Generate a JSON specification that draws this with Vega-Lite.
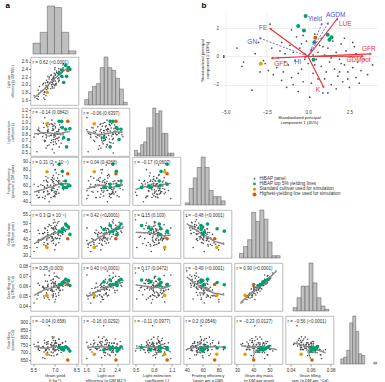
{
"$schema":"https://vega.github.io/schema/vega-lite/v6.json",
"padding":{"left":5.5,"top":1,"right":0,"bottom":0},
"background":"white",
"config":{"font":"Liberation Sans","view":{"stroke":"#aaaaaa","strokeWidth":0.8},
"axis":{"labelFontSize":4.5,"titleFontSize":4.2,"titleFontWeight":"normal","labelColor":"#333","titleColor":"#222","tickSize":2,"tickWidth":0.6,"tickColor":"#555","domain":false,"grid":false,"labelPadding":1,"titlePadding":2,"titleLineHeight":5,"labelOverlap":false,"labelFlush":false},
"axisY":{"minExtent":14,"maxExtent":14},
"title":{"fontSize":4.5,"fontWeight":"normal","anchor":"start","frame":"group","offset":-7,"dx":2,"color":"#333"}},
"datasets":{
"geno":[
{"g":"P","Y":6.92,"L":2.10,"K":0.82,"F":60,"D":43.0,"R":0.0590,"T":728},
{"g":"P","Y":6.44,"L":1.95,"K":0.78,"F":65.4,"D":39.5,"R":0.0511,"T":769},
{"g":"P","Y":7.04,"L":2.25,"K":0.91,"F":50.4,"D":47.5,"R":0.0643,"T":737},
{"g":"P","Y":6.34,"L":2.05,"K":0.70,"F":47.2,"D":46.5,"R":0.0649,"T":713},
{"g":"P","Y":6.52,"L":1.80,"K":0.85,"F":69.6,"D":37.0,"R":0.0486,"T":759},
{"g":"P","Y":7.44,"L":2.30,"K":0.66,"F":62.2,"D":44.0,"R":0.0624,"T":702},
{"g":"P","Y":6.90,"L":2.15,"K":0.88,"F":72.8,"D":39.5,"R":0.0501,"T":782},
{"g":"P","Y":6.51,"L":1.90,"K":0.93,"F":52.6,"D":43.0,"R":0.0590,"T":728},
{"g":"P","Y":6.99,"L":2.40,"K":0.80,"F":47.6,"D":48.0,"R":0.0630,"T":762},
{"g":"P","Y":7.09,"L":2.00,"K":0.74,"F":76.0,"D":37.0,"R":0.0496,"T":746},
{"g":"P","Y":6.61,"L":2.20,"K":0.97,"F":50.0,"D":49.0,"R":0.0704,"T":685},
{"g":"P","Y":5.84,"L":1.70,"K":0.81,"F":59.2,"D":38.0,"R":0.0530,"T":720},
{"g":"P","Y":7.30,"L":2.12,"K":0.60,"F":62.8,"D":44.2,"R":0.0587,"T":753},
{"g":"P","Y":7.27,"L":2.35,"K":0.86,"F":62.6,"D":42.5,"R":0.0533,"T":792},
{"g":"P","Y":6.15,"L":1.85,"K":0.77,"F":45.4,"D":43.5,"R":0.0587,"T":741},
{"g":"P","Y":6.51,"L":2.08,"K":1.00,"F":64.4,"D":40.8,"R":0.0559,"T":730},
{"g":"P","Y":7.02,"L":2.28,"K":0.72,"F":53.0,"D":44.8,"R":0.0625,"T":714},
{"g":"P","Y":6.53,"L":1.98,"K":0.89,"F":49.8,"D":47.8,"R":0.0617,"T":775},
{"g":"P","Y":7.73,"L":2.50,"K":0.84,"F":62.4,"D":45.0,"R":0.0608,"T":739},
{"g":"P","Y":7.04,"L":2.02,"K":0.68,"F":80.2,"D":36.2,"R":0.0465,"T":772},
{"g":"P","Y":6.24,"L":1.75,"K":0.92,"F":52.8,"D":40.5,"R":0.0575,"T":705},
{"g":"P","Y":6.94,"L":2.18,"K":0.79,"F":62.6,"D":45.8,"R":0.0609,"T":751},
{"g":"P","Y":6.93,"L":2.22,"K":0.95,"F":59.8,"D":40.2,"R":0.0591,"T":680},
{"g":"P","Y":6.82,"L":1.92,"K":0.56,"F":67.0,"D":41.2,"R":0.0555,"T":742},
{"g":"P","Y":7.01,"L":2.45,"K":0.83,"F":46.2,"D":50.5,"R":0.0695,"T":722},
{"g":"P","Y":6.81,"L":2.06,"K":0.87,"F":57.2,"D":41.6,"R":0.0510,"T":806},
{"g":"P","Y":6.40,"L":1.88,"K":0.75,"F":67.0,"D":35.8,"R":0.0499,"T":721},
{"g":"P","Y":7.52,"L":2.32,"K":0.90,"F":56.8,"D":46.2,"R":0.0605,"T":764},
{"g":"P","Y":6.91,"L":2.14,"K":0.64,"F":65.4,"D":46.4,"R":0.0628,"T":738},
{"g":"P","Y":6.23,"L":1.66,"K":0.82,"F":66.4,"D":36.6,"R":0.0500,"T":733},
{"g":"P","Y":6.75,"L":2.26,"K":0.98,"F":55.6,"D":41.6,"R":0.0590,"T":704},
{"g":"P","Y":6.77,"L":2.00,"K":0.71,"F":54.0,"D":47.0,"R":0.0626,"T":751},
{"g":"P","Y":7.42,"L":2.38,"K":0.80,"F":63.2,"D":44.8,"R":0.0605,"T":740},
{"g":"P","Y":5.93,"L":1.96,"K":0.86,"F":45.6,"D":43.6,"R":0.0608,"T":715},
{"g":"P","Y":7.04,"L":2.10,"K":0.93,"F":61.4,"D":41.0,"R":0.0522,"T":781},
{"g":"P","Y":7.60,"L":2.55,"K":0.77,"F":55.0,"D":47.5,"R":0.0653,"T":725},
{"g":"P","Y":6.29,"L":1.82,"K":0.69,"F":58.2,"D":44.2,"R":0.0577,"T":765},
{"g":"P","Y":7.20,"L":2.16,"K":0.85,"F":69.6,"D":40.6,"R":0.0586,"T":692},
{"g":"P","Y":6.21,"L":2.04,"K":0.99,"F":51.8,"D":43.4,"R":0.0586,"T":741},
{"g":"P","Y":7.28,"L":2.28,"K":0.81,"F":50.8,"D":50.8,"R":0.0679,"T":747},
{"g":"P","Y":6.48,"L":1.94,"K":0.62,"F":60.8,"D":37.4,"R":0.0512,"T":733},
{"g":"P","Y":7.27,"L":2.42,"K":0.88,"F":66.4,"D":44.2,"R":0.0617,"T":715},
{"g":"P","Y":7.29,"L":2.12,"K":0.76,"F":58.6,"D":45.2,"R":0.0571,"T":790},
{"g":"P","Y":5.88,"L":1.78,"K":0.91,"F":52.0,"D":39.8,"R":0.0535,"T":744},
{"g":"P","Y":7.55,"L":2.20,"K":0.73,"F":72.2,"D":43.0,"R":0.0560,"T":766},
{"g":"P","Y":6.48,"L":2.06,"K":0.84,"F":53.4,"D":45.6,"R":0.0646,"T":701},
{"g":"P","Y":7.34,"L":2.34,"K":0.96,"F":66.0,"D":40.4,"R":0.0554,"T":730},
{"g":"P","Y":6.71,"L":1.90,"K":0.79,"F":60.8,"D":42.0,"R":0.0556,"T":754},
{"g":"P","Y":6.73,"L":2.24,"K":0.67,"F":45.2,"D":48.4,"R":0.0656,"T":737},
{"g":"P","Y":6.16,"L":2.00,"K":0.83,"F":60.4,"D":40.0,"R":0.0598,"T":667},
{"g":"P","Y":7.75,"L":2.48,"K":0.90,"F":56.6,"D":48.8,"R":0.0631,"T":775},
{"g":"P","Y":6.38,"L":1.72,"K":0.80,"F":71.6,"D":36.2,"R":0.0505,"T":721},
{"g":"P","Y":6.79,"L":2.14,"K":1.04,"F":54.0,"D":43.4,"R":0.0566,"T":766},
{"g":"P","Y":7.21,"L":2.30,"K":0.74,"F":65.4,"D":43.0,"R":0.0580,"T":741},
{"g":"P","Y":5.84,"L":1.86,"K":0.87,"F":45.0,"D":45.6,"R":0.0626,"T":726},
{"g":"P","Y":7.26,"L":2.08,"K":0.70,"F":63.8,"D":43.8,"R":0.0581,"T":753},
{"g":"P","Y":7.12,"L":2.36,"K":0.82,"F":52.4,"D":48.6,"R":0.0698,"T":686},
{"g":"P","Y":6.86,"L":2.02,"K":0.94,"F":64.6,"D":39.2,"R":0.0487,"T":795},
{"g":"P","Y":6.39,"L":1.98,"K":0.58,"F":57.0,"D":41.8,"R":0.0583,"T":717},
{"g":"P","Y":7.28,"L":2.18,"K":0.89,"F":74.2,"D":37.8,"R":0.0507,"T":745},
{"g":"P","Y":7.04,"L":2.26,"K":0.78,"F":49.6,"D":46.6,"R":0.0610,"T":764},
{"g":"P","Y":6.03,"L":1.84,"K":0.84,"F":61.2,"D":39.4,"R":0.0540,"T":731},
{"g":"P","Y":6.88,"L":2.10,"K":0.72,"F":57.2,"D":47.0,"R":0.0666,"T":700},
{"g":"P","Y":7.39,"L":2.40,"K":0.92,"F":61.8,"D":42.0,"R":0.0556,"T":754},
{"g":"P","Y":6.94,"L":1.92,"K":0.80,"F":68.4,"D":44.2,"R":0.0547,"T":804},
{"g":"P","Y":6.51,"L":2.22,"K":0.86,"F":49.0,"D":44.2,"R":0.0597,"T":740},
{"g":"P","Y":7.10,"L":2.04,"K":0.65,"F":66.4,"D":40.4,"R":0.0564,"T":718},
{"g":"P","Y":5.83,"L":1.62,"K":0.88,"F":53.8,"D":39.2,"R":0.0507,"T":769},
{"g":"P","Y":7.18,"L":2.30,"K":0.81,"F":55.0,"D":50.0,"R":0.0688,"T":723},
{"g":"P","Y":6.42,"L":2.12,"K":0.95,"F":56.6,"D":40.2,"R":0.0531,"T":756},
{"g":"P","Y":6.94,"L":2.00,"K":0.76,"F":56.6,"D":44.0,"R":0.0594,"T":740},
{"g":"P","Y":7.58,"L":2.44,"K":0.83,"F":66.0,"D":46.4,"R":0.0648,"T":713},
{"g":"P","Y":6.26,"L":1.80,"K":0.71,"F":58.4,"D":38.0,"R":0.0480,"T":783},
{"g":"P","Y":6.86,"L":2.16,"K":0.90,"F":54.4,"D":46.6,"R":0.0640,"T":725},
{"g":"P","Y":6.75,"L":2.08,"K":0.79,"F":67.8,"D":38.8,"R":0.0571,"T":681},
{"g":"P","Y":7.12,"L":2.32,"K":0.85,"F":49.8,"D":46.2,"R":0.0605,"T":764},
{"g":"P","Y":6.82,"L":1.96,"K":0.97,"F":70.2,"D":40.6,"R":0.0546,"T":743},
{"g":"P","Y":6.89,"L":2.20,"K":0.68,"F":46.8,"D":50.0,"R":0.0668,"T":748},
{"g":"P","Y":6.49,"L":2.06,"K":0.87,"F":60.0,"D":42.6,"R":0.0604,"T":703},
{"g":"P","Y":7.57,"L":2.52,"K":0.80,"F":60.6,"D":44.2,"R":0.0597,"T":740},
{"g":"P","Y":5.55,"L":1.72,"K":0.76,"F":62,"D":32.5,"R":0.0430,"T":756},
{"g":"P","Y":5.75,"L":1.65,"K":0.52,"F":48,"D":35.0,"R":0.0470,"T":745},
{"g":"P","Y":6.60,"L":2.05,"K":0.78,"F":58,"D":41.0,"R":0.0465,"T":880},
{"g":"P","Y":6.90,"L":2.12,"K":0.88,"F":86,"D":37.5,"R":0.0520,"T":721},
{"g":"P","Y":6.30,"L":1.62,"K":1.08,"F":44,"D":47.0,"R":0.0710,"T":662},
{"g":"P","Y":6.95,"L":2.30,"K":0.50,"F":52,"D":52.0,"R":0.0730,"T":712},
{"g":"P","Y":6.60,"L":2.15,"K":0.63,"F":40,"D":54.0,"R":0.0750,"T":720},
{"g":"P","Y":7.00,"L":1.98,"K":0.98,"F":80,"D":33.5,"R":0.0440,"T":761},
{"g":"H","Y":7.90,"L":2.37,"K":1.02,"F":75,"D":40.3,"R":0.0615,"T":652},
{"g":"T","Y":7.30,"L":2.29,"K":1.02,"F":87,"D":45.0,"R":0.0612,"T":735},
{"g":"T","Y":7.52,"L":2.38,"K":0.92,"F":78,"D":46.5,"R":0.0635,"T":732},
{"g":"T","Y":7.75,"L":2.50,"K":0.89,"F":66,"D":49.4,"R":0.0668,"T":740},
{"g":"T","Y":7.95,"L":2.45,"K":0.72,"F":60,"D":47.5,"R":0.0655,"T":725},
{"g":"T","Y":7.48,"L":2.22,"K":1.02,"F":62,"D":44.5,"R":0.0615,"T":724},
{"g":"T","Y":7.82,"L":2.22,"K":0.60,"F":58,"D":48.5,"R":0.0660,"T":735},
{"g":"T","Y":7.62,"L":2.06,"K":0.75,"F":58,"D":46.0,"R":0.0640,"T":719},
{"g":"T","Y":8.05,"L":2.40,"K":0.90,"F":60,"D":43.0,"R":0.0605,"T":711},
{"g":"S","Y":6.45,"L":1.81,"K":0.98,"F":77.6,"D":35.0,"R":0.0506,"T":690}
],
"pca":[
{"g":"P","x":-5.1,"y":0.05},{"g":"P","x":-5.1,"y":-0.05},{"g":"P","x":-4.3,"y":0.6},{"g":"P","x":-3.9,"y":-0.4},{"g":"P","x":-4.0,"y":-0.7},{"g":"P","x":-3.4,"y":-2.4},{"g":"P","x":-2.3,"y":2.3},{"g":"P","x":-2.6,"y":-0.5},{"g":"P","x":-2.4,"y":-1.0},{"g":"P","x":-2.1,"y":-1.3},
{"g":"P","x":-1.9,"y":-0.8},{"g":"P","x":-1.7,"y":0.4},{"g":"P","x":-1.6,"y":1.0},{"g":"P","x":-1.4,"y":0.2},{"g":"P","x":-1.3,"y":-2.2},{"g":"P","x":-1.2,"y":-0.6},{"g":"P","x":-1.1,"y":0.8},{"g":"P","x":-1.0,"y":-1.5},{"g":"P","x":-0.9,"y":0.3},{"g":"P","x":-0.8,"y":-0.3},
{"g":"P","x":-0.7,"y":1.4},{"g":"P","x":-0.6,"y":-2.5},{"g":"P","x":-0.5,"y":0.6},{"g":"P","x":-0.4,"y":-0.9},{"g":"P","x":-0.3,"y":-1.8},{"g":"P","x":-0.2,"y":0.2},{"g":"P","x":-0.1,"y":1.1},{"g":"P","x":0.0,"y":-0.5},{"g":"P","x":0.1,"y":-2.9},{"g":"P","x":0.2,"y":0.5},
{"g":"P","x":0.3,"y":-1.2},{"g":"P","x":0.4,"y":1.6},{"g":"P","x":0.5,"y":-0.2},{"g":"P","x":0.6,"y":-1.6},{"g":"P","x":0.7,"y":0.8},{"g":"P","x":0.8,"y":-0.7},{"g":"P","x":0.9,"y":-2.6},{"g":"P","x":1.0,"y":0.1},{"g":"P","x":1.1,"y":-1.1},{"g":"P","x":1.2,"y":0.6},
{"g":"P","x":1.3,"y":-0.4},{"g":"P","x":1.4,"y":-2.0},{"g":"P","x":1.5,"y":1.1},{"g":"P","x":1.6,"y":-0.9},{"g":"P","x":1.7,"y":0.3},{"g":"P","x":1.8,"y":-1.4},{"g":"P","x":1.9,"y":-0.2},{"g":"P","x":2.0,"y":0.9},{"g":"P","x":2.1,"y":-1.8},{"g":"P","x":2.2,"y":-0.6},
{"g":"P","x":2.3,"y":0.4},{"g":"P","x":2.4,"y":-1.1},{"g":"P","x":2.5,"y":-2.2},{"g":"P","x":2.6,"y":0.0},{"g":"P","x":2.7,"y":-0.8},{"g":"P","x":2.8,"y":0.7},{"g":"P","x":2.9,"y":-1.5},{"g":"P","x":3.0,"y":-0.4},{"g":"P","x":3.2,"y":-1.0},{"g":"P","x":3.4,"y":-0.2},
{"g":"P","x":3.6,"y":-1.3},{"g":"P","x":3.9,"y":-0.6},{"g":"P","x":2.2,"y":1.3},{"g":"P","x":2.7,"y":1.0},{"g":"P","x":-3.0,"y":1.0},{"g":"P","x":-1.8,"y":-0.1},{"g":"P","x":-2.9,"y":-1.1},{"g":"P","x":-1.5,"y":-1.1},{"g":"P","x":-0.6,"y":-1.2},{"g":"P","x":0.4,"y":-0.6},
{"g":"P","x":1.0,"y":-1.6},{"g":"P","x":1.7,"y":-2.3},{"g":"P","x":0.2,"y":-1.9},{"g":"P","x":-0.9,"y":-2.0},{"g":"P","x":-2.2,"y":0.6},{"g":"P","x":-0.2,"y":-0.2},{"g":"P","x":0.6,"y":0.3},{"g":"P","x":1.4,"y":-0.1},{"g":"P","x":2.0,"y":-0.5},{"g":"P","x":3.1,"y":-1.9},
{"g":"P","x":-3.2,"y":0.2},{"g":"P","x":-1.0,"y":1.9},{"g":"P","x":0.9,"y":0.7},{"g":"P","x":1.9,"y":-1.1},{"g":"P","x":-0.4,"y":0.9},{"g":"P","x":-2.7,"y":-0.3},{"g":"P","x":0.3,"y":0.1},{"g":"P","x":-1.4,"y":-0.4},{"g":"P","x":2.4,"y":-1.6},{"g":"P","x":1.2,"y":-2.6},
{"g":"P","x":-0.3,"y":1.5},{"g":"P","x":0.8,"y":1.3},{"g":"P","x":2.9,"y":0.2},{"g":"P","x":-1.6,"y":-1.7},
{"g":"T","x":-0.15,"y":2.88},{"g":"T","x":-0.6,"y":2.17},{"g":"T","x":-0.25,"y":1.86},{"g":"T","x":0.38,"y":1.02},{"g":"T","x":1.19,"y":1.55},{"g":"T","x":1.42,"y":1.38},{"g":"T","x":1.29,"y":1.19},{"g":"T","x":0.33,"y":-0.24},
{"g":"S","x":-2.86,"y":-0.52},{"g":"H","x":0.44,"y":1.33}
],
"arrows":[
{"v":"FE","k":"t","x":-2.29,"y":1.98,"lx":-2.72,"ly":2.05},
{"v":"LUE","k":"t","x":1.77,"y":2.69,"lx":2.25,"ly":2.33},
{"v":"GFR","k":"t","x":3.79,"y":0.19,"lx":3.68,"ly":0.55},
{"v":"GDMpot","k":"t","x":3.3,"y":0.02,"lx":3.05,"ly":-0.24},
{"v":"GFD","k":"t","x":-2.19,"y":-0.12,"lx":-1.63,"ly":-0.5},
{"v":"K","k":"t","x":0.94,"y":-2.19,"lx":0.6,"ly":-2.42},
{"v":"Yield","k":"s","x":0.83,"y":2.33,"lx":0.42,"ly":2.66},
{"v":"AGDM","k":"s","x":1.21,"y":2.38,"lx":1.67,"ly":2.93},
{"v":"GN","k":"s","x":-2.92,"y":1.31,"lx":-3.38,"ly":1.02},
{"v":"HI","k":"s","x":-0.2,"y":-0.05,"lx":-0.62,"ly":-0.38}
],
"leg":[
{"g":"P","label":"HiBAP panel"},
{"g":"T","label":"HiBAP top 5% yielding lines"},
{"g":"S","label":"Standard cultivar used for simulation"},
{"g":"H","label":"Highest-yielding line used for simulation"}
]
},
"spacing":-3,
"vconcat":[
{"hconcat":[
 {"concat":[
  {"width":48,"height":48,"view":{"stroke":null},"data":{"name":"geno"},
   "title":{"text":"a","fontSize":8,"fontWeight":"bold","color":"#000","anchor":"start","frame":"group","dx":-25,"offset":-4.5},
   "mark":{"type":"bar","fill":"#bfbfbf","stroke":"#595959","strokeWidth":0.5,"binSpacing":0},
   "encoding":{"x":{"field":"Y","type":"quantitative","bin":{"step":0.5,"extent":[5.44,8.44],"nice":false},"scale":{"domain":[5.3,8.65],"nice":false,"zero":false},"axis":null},
   "y":{"aggregate":"count","type":"quantitative","scale":{"nice":false},"axis":{"labels":false,"ticks":false,"title":["Light use","efficiency"],"titleOpacity":0,"titleFontSize":3.3,"titleLineHeight":4.2}}}},
  {"width":1,"height":1,"view":{"stroke":null},"data":{"values":[]},"mark":{"type":"point","opacity":0},"encoding":{}},
  {"width":1,"height":1,"view":{"stroke":null},"data":{"values":[]},"mark":{"type":"point","opacity":0},"encoding":{}},
  {"width":48,"height":48,"data":{"name":"geno"},"title":"r = 0.62 (<0.0001)",
   "encoding":{"x":{"field":"Y","type":"quantitative","scale":{"domain":[5.3,8.65],"nice":false,"zero":false},"axis":null},
    "y":{"field":"L","type":"quantitative","scale":{"domain":[1.48,2.72],"nice":false,"zero":false},"axis":{"values":[1.6,1.8,2.0,2.2,2.4,2.6],"format":".1f","title":["Light use","efficiency (g DM MJ⁻¹)"],"titleFontSize":3.3,"titleLineHeight":4.2}}},
   "layer":[
    {"transform":[{"filter":"datum.g=='P'"}],"mark":{"type":"point","filled":true,"size":2.5,"color":"#4d4d4d","opacity":1}},
    {"transform":[{"loess":"L","on":"Y","bandwidth":0.6}],"mark":{"type":"line","color":"#8a8a8a","strokeWidth":1.4}},
    {"transform":[{"filter":"datum.g!='P'"}],"mark":{"type":"point","filled":true,"size":13,"opacity":1},"encoding":{"color":{"field":"g","type":"nominal","scale":{"domain":["P","T","S","H"],"range":["#4d4d4d","#009E73","#E69F00","#D55E00"]},"legend":null}}}]},
  {"width":48,"height":48,"view":{"stroke":null},"data":{"name":"geno"},
   "mark":{"type":"bar","fill":"#bfbfbf","stroke":"#595959","strokeWidth":0.5,"binSpacing":0},
   "encoding":{"x":{"field":"L","type":"quantitative","bin":{"step":0.1,"extent":[1.55,2.65],"nice":false},"scale":{"domain":[1.48,2.72],"nice":false,"zero":false},"axis":null},
   "y":{"aggregate":"count","type":"quantitative","scale":{"nice":false},"axis":null}}},
  {"width":1,"height":1,"view":{"stroke":null},"data":{"values":[]},"mark":{"type":"point","opacity":0},"encoding":{}},
  {"width":48,"height":48,"data":{"name":"geno"},"title":"r = −0.14 (0.0842)",
   "encoding":{"x":{"field":"Y","type":"quantitative","scale":{"domain":[5.3,8.65],"nice":false,"zero":false},"axis":null},
    "y":{"field":"K","type":"quantitative","scale":{"domain":[0.45,1.24],"nice":false,"zero":false},"axis":{"values":[0.5,0.6,0.7,0.8,0.9,1.0,1.1,1.2],"format":".1f","title":["Light extinction","coefficient (-)"],"titleFontSize":3.3,"titleLineHeight":4.2}}},
   "layer":[
    {"transform":[{"filter":"datum.g=='P'"}],"mark":{"type":"point","filled":true,"size":2.5,"color":"#4d4d4d","opacity":1}},
    {"transform":[{"loess":"K","on":"Y","bandwidth":0.6}],"mark":{"type":"line","color":"#8a8a8a","strokeWidth":1.4}},
    {"transform":[{"filter":"datum.g!='P'"}],"mark":{"type":"point","filled":true,"size":13,"opacity":1},"encoding":{"color":{"field":"g","type":"nominal","scale":{"domain":["P","T","S","H"],"range":["#4d4d4d","#009E73","#E69F00","#D55E00"]},"legend":null}}}]},
  {"width":48,"height":48,"data":{"name":"geno"},"title":"r = −0.06 (0.6397)",
   "encoding":{"x":{"field":"L","type":"quantitative","scale":{"domain":[1.48,2.72],"nice":false,"zero":false},"axis":null},
    "y":{"field":"K","type":"quantitative","scale":{"domain":[0.45,1.24],"nice":false,"zero":false},"axis":null}},
   "layer":[
    {"transform":[{"filter":"datum.g=='P'"}],"mark":{"type":"point","filled":true,"size":2.5,"color":"#4d4d4d","opacity":1}},
    {"transform":[{"loess":"K","on":"L","bandwidth":0.6}],"mark":{"type":"line","color":"#8a8a8a","strokeWidth":1.4}},
    {"transform":[{"filter":"datum.g!='P'"}],"mark":{"type":"point","filled":true,"size":13,"opacity":1},"encoding":{"color":{"field":"g","type":"nominal","scale":{"domain":["P","T","S","H"],"range":["#4d4d4d","#009E73","#E69F00","#D55E00"]},"legend":null}}}]},
  {"width":48,"height":48,"view":{"stroke":null},"data":{"name":"geno"},
   "mark":{"type":"bar","fill":"#bfbfbf","stroke":"#595959","strokeWidth":0.5,"binSpacing":0},
   "encoding":{"x":{"field":"K","type":"quantitative","bin":{"step":0.05,"extent":[0.475,1.125],"nice":false},"scale":{"domain":[0.45,1.24],"nice":false,"zero":false},"axis":null},
   "y":{"aggregate":"count","type":"quantitative","scale":{"nice":false},"axis":null}}}
 ],"columns":3,"spacing":3,"bounds":"flush"},
 {"vconcat":[
  {"width":20,"height":4,"view":{"stroke":null},"data":{"values":[]},"mark":{"type":"point","opacity":0},"encoding":{}},
  {"width":157,"height":94,"view":{"stroke":null},
   "title":{"text":"b","fontSize":8,"fontWeight":"bold","color":"#000","anchor":"start","frame":"group","dx":-19,"offset":2.5},
   "encoding":{"x":{"field":"x","type":"quantitative","scale":{"domain":[-5.3,4.2],"nice":false,"zero":false},"axis":{"values":[-5,-2.5,0,2.5],"format":".1f","title":["Standardized principal","component 1 (45%)"],"grid":true,"gridColor":"#e4e4e4","gridWidth":0.6,"ticks":false,"labelPadding":2,"labelColor":"#444","titleFontSize":4.3}},
    "y":{"field":"y","type":"quantitative","scale":{"domain":[-3.6,3.1],"nice":false,"zero":false},"axis":{"values":[-2,0,2],"title":["Standardized principal","component 2 (19%)"],"grid":true,"gridColor":"#e4e4e4","gridWidth":0.6,"ticks":false,"labelPadding":2,"labelColor":"#444","minExtent":8,"maxExtent":8,"titlePadding":3,"titleFontSize":4.3,"titleLineHeight":5}}},
   "layer":[
    {"data":{"name":"pca"},"transform":[{"filter":"datum.g=='P'"}],"mark":{"type":"point","filled":true,"size":3,"color":"#4d4d4d","opacity":1}},
    {"data":{"name":"pca"},"transform":[{"filter":"datum.g!='P'"}],"mark":{"type":"point","filled":true,"size":16,"opacity":1},"encoding":{"color":{"field":"g","type":"nominal","scale":{"domain":["P","T","S","H"],"range":["#4d4d4d","#009E73","#E69F00","#D55E00"]},"legend":null}}},
    {"data":{"name":"arrows"},"transform":[{"filter":"datum.k=='s'"}],"mark":{"type":"rule","color":"#5a5ae0","strokeWidth":0.9,"strokeDash":[2,1.5]},"encoding":{"x2":{"datum":0},"y2":{"datum":0}}},
    {"data":{"name":"arrows"},"transform":[{"filter":"datum.k=='t'"}],"mark":{"type":"rule","color":"#e8333a","strokeWidth":1.2},"encoding":{"x2":{"datum":0},"y2":{"datum":0}}},
    {"data":{"name":"arrows"},"transform":[{"filter":"datum.k=='s'"},{"calculate":"atan2(datum.x*16, datum.y*14)*180/PI","as":"ang"}],"mark":{"type":"point","shape":"triangle-up","filled":true,"size":7,"color":"#5a5ae0","opacity":1},"encoding":{"angle":{"field":"ang","type":"quantitative","scale":null}}},
    {"data":{"name":"arrows"},"transform":[{"filter":"datum.k=='t'"},{"calculate":"atan2(datum.x*16, datum.y*14)*180/PI","as":"ang"}],"mark":{"type":"point","shape":"triangle-up","filled":true,"size":8,"color":"#e8333a","opacity":1},"encoding":{"angle":{"field":"ang","type":"quantitative","scale":null}}},
    {"data":{"name":"arrows"},"transform":[{"filter":"datum.k=='s'"}],"mark":{"type":"text","fontSize":6.5,"color":"#5050dd"},"encoding":{"x":{"field":"lx","type":"quantitative","title":["Standardized principal","component 1 (45%)"]},"y":{"field":"ly","type":"quantitative","title":["Standardized principal","component 2 (19%)"]},"text":{"field":"v"}}},
    {"data":{"name":"arrows"},"transform":[{"filter":"datum.k=='t'"}],"mark":{"type":"text","fontSize":6.5,"color":"#e8333a"},"encoding":{"x":{"field":"lx","type":"quantitative","title":["Standardized principal","component 1 (45%)"]},"y":{"field":"ly","type":"quantitative","title":["Standardized principal","component 2 (19%)"]},"text":{"field":"v"}}}
   ]}
 ],"spacing":3,"bounds":"flush"}
],"spacing":20},
{"vconcat":[
{"hconcat":[
 {"width":48,"height":48,"data":{"name":"geno"},"title":"r = 0.31 (2 × 10⁻⁵)",
  "encoding":{"x":{"field":"Y","type":"quantitative","scale":{"domain":[5.3,8.65],"nice":false,"zero":false},"axis":null},
   "y":{"field":"F","type":"quantitative","scale":{"domain":[36,96],"nice":false,"zero":false},"axis":{"values":[40,50,60,70,80,90],"title":["Fruiting efficiency","(grain per g DM spike)"],"titleFontSize":3.3,"titleLineHeight":4.2}}},
  "layer":[
   {"transform":[{"filter":"datum.g=='P'"}],"mark":{"type":"point","filled":true,"size":2.5,"color":"#4d4d4d","opacity":1}},
   {"transform":[{"loess":"F","on":"Y","bandwidth":0.6}],"mark":{"type":"line","color":"#8a8a8a","strokeWidth":1.4}},
   {"transform":[{"filter":"datum.g!='P'"}],"mark":{"type":"point","filled":true,"size":13,"opacity":1},"encoding":{"color":{"field":"g","type":"nominal","scale":{"domain":["P","T","S","H"],"range":["#4d4d4d","#009E73","#E69F00","#D55E00"]},"legend":null}}}]},
 {"width":48,"height":48,"data":{"name":"geno"},"title":"r = 0.04 (0.4268)",
  "encoding":{"x":{"field":"L","type":"quantitative","scale":{"domain":[1.48,2.72],"nice":false,"zero":false},"axis":null},
   "y":{"field":"F","type":"quantitative","scale":{"domain":[36,96],"nice":false,"zero":false},"axis":null}},
  "layer":[
   {"transform":[{"filter":"datum.g=='P'"}],"mark":{"type":"point","filled":true,"size":2.5,"color":"#4d4d4d","opacity":1}},
   {"transform":[{"loess":"F","on":"L","bandwidth":0.6}],"mark":{"type":"line","color":"#8a8a8a","strokeWidth":1.4}},
   {"transform":[{"filter":"datum.g!='P'"}],"mark":{"type":"point","filled":true,"size":13,"opacity":1},"encoding":{"color":{"field":"g","type":"nominal","scale":{"domain":["P","T","S","H"],"range":["#4d4d4d","#009E73","#E69F00","#D55E00"]},"legend":null}}}]},
 {"width":48,"height":48,"data":{"name":"geno"},"title":"r = −0.17 (0.0607)",
  "encoding":{"x":{"field":"K","type":"quantitative","scale":{"domain":[0.45,1.24],"nice":false,"zero":false},"axis":null},
   "y":{"field":"F","type":"quantitative","scale":{"domain":[36,96],"nice":false,"zero":false},"axis":null}},
  "layer":[
   {"transform":[{"filter":"datum.g=='P'"}],"mark":{"type":"point","filled":true,"size":2.5,"color":"#4d4d4d","opacity":1}},
   {"transform":[{"loess":"F","on":"K","bandwidth":0.6}],"mark":{"type":"line","color":"#8a8a8a","strokeWidth":1.4}},
   {"transform":[{"filter":"datum.g!='P'"}],"mark":{"type":"point","filled":true,"size":13,"opacity":1},"encoding":{"color":{"field":"g","type":"nominal","scale":{"domain":["P","T","S","H"],"range":["#4d4d4d","#009E73","#E69F00","#D55E00"]},"legend":null}}}]},
 {"width":48,"height":48,"view":{"stroke":null},"data":{"name":"geno"},
  "mark":{"type":"bar","fill":"#bfbfbf","stroke":"#595959","strokeWidth":0.5,"binSpacing":0},
  "encoding":{"x":{"field":"F","type":"quantitative","bin":{"step":5,"extent":[37.5,92.5],"nice":false},"scale":{"domain":[36,96],"nice":false,"zero":false},"axis":null},
  "y":{"aggregate":"count","type":"quantitative","scale":{"nice":false},"axis":null}}},
 {"width":120,"height":48,"view":{"stroke":null},"data":{"name":"leg"},
  "encoding":{"y":{"field":"label","type":"nominal","sort":null,"axis":null,"scale":{"type":"point","range":[19,40]}}},
  "layer":[
   {"mark":{"type":"point","filled":true,"opacity":1},"encoding":{"x":{"datum":20,"type":"quantitative","scale":{"domain":[0,120]},"axis":null},
    "color":{"field":"g","type":"nominal","scale":{"domain":["P","T","S","H"],"range":["#4d4d4d","#009E73","#E69F00","#D55E00"]},"legend":null},
    "size":{"field":"g","type":"nominal","scale":{"domain":["P","T","S","H"],"range":[3,16,16,16]},"legend":null}}},
   {"mark":{"type":"text","align":"left","fontSize":4.6,"color":"#333"},"encoding":{"x":{"datum":25,"type":"quantitative"},"text":{"field":"label"}}}
  ]}
],"spacing":3,"bounds":"flush"},
{"hconcat":[
 {"width":48,"height":48,"data":{"name":"geno"},"title":"r = 0.3 (3 × 10⁻⁵)",
  "encoding":{"x":{"field":"Y","type":"quantitative","scale":{"domain":[5.3,8.65],"nice":false,"zero":false},"axis":null},
   "y":{"field":"D","type":"quantitative","scale":{"domain":[28.5,58],"nice":false,"zero":false},"axis":{"values":[30,35,40,45,50,55],"title":["Grain dry mass","(g DM per grain)"],"titleFontSize":3.3,"titleLineHeight":4.2}}},
  "layer":[
   {"transform":[{"filter":"datum.g=='P'"}],"mark":{"type":"point","filled":true,"size":2.5,"color":"#4d4d4d","opacity":1}},
   {"transform":[{"loess":"D","on":"Y","bandwidth":0.6}],"mark":{"type":"line","color":"#8a8a8a","strokeWidth":1.4}},
   {"transform":[{"filter":"datum.g!='P'"}],"mark":{"type":"point","filled":true,"size":13,"opacity":1},"encoding":{"color":{"field":"g","type":"nominal","scale":{"domain":["P","T","S","H"],"range":["#4d4d4d","#009E73","#E69F00","#D55E00"]},"legend":null}}}]},
 {"width":48,"height":48,"data":{"name":"geno"},"title":"r = 0.42 (<0.0001)",
  "encoding":{"x":{"field":"L","type":"quantitative","scale":{"domain":[1.48,2.72],"nice":false,"zero":false},"axis":null},
   "y":{"field":"D","type":"quantitative","scale":{"domain":[28.5,58],"nice":false,"zero":false},"axis":null}},
  "layer":[
   {"transform":[{"filter":"datum.g=='P'"}],"mark":{"type":"point","filled":true,"size":2.5,"color":"#4d4d4d","opacity":1}},
   {"transform":[{"loess":"D","on":"L","bandwidth":0.6}],"mark":{"type":"line","color":"#8a8a8a","strokeWidth":1.4}},
   {"transform":[{"filter":"datum.g!='P'"}],"mark":{"type":"point","filled":true,"size":13,"opacity":1},"encoding":{"color":{"field":"g","type":"nominal","scale":{"domain":["P","T","S","H"],"range":["#4d4d4d","#009E73","#E69F00","#D55E00"]},"legend":null}}}]},
 {"width":48,"height":48,"data":{"name":"geno"},"title":"r = 0.15 (0.103)",
  "encoding":{"x":{"field":"K","type":"quantitative","scale":{"domain":[0.45,1.24],"nice":false,"zero":false},"axis":null},
   "y":{"field":"D","type":"quantitative","scale":{"domain":[28.5,58],"nice":false,"zero":false},"axis":null}},
  "layer":[
   {"transform":[{"filter":"datum.g=='P'"}],"mark":{"type":"point","filled":true,"size":2.5,"color":"#4d4d4d","opacity":1}},
   {"transform":[{"loess":"D","on":"K","bandwidth":0.6}],"mark":{"type":"line","color":"#8a8a8a","strokeWidth":1.4}},
   {"transform":[{"filter":"datum.g!='P'"}],"mark":{"type":"point","filled":true,"size":13,"opacity":1},"encoding":{"color":{"field":"g","type":"nominal","scale":{"domain":["P","T","S","H"],"range":["#4d4d4d","#009E73","#E69F00","#D55E00"]},"legend":null}}}]},
 {"width":48,"height":48,"data":{"name":"geno"},"title":"r = −0.48 (<0.0001)",
  "encoding":{"x":{"field":"F","type":"quantitative","scale":{"domain":[36,96],"nice":false,"zero":false},"axis":null},
   "y":{"field":"D","type":"quantitative","scale":{"domain":[28.5,58],"nice":false,"zero":false},"axis":null}},
  "layer":[
   {"transform":[{"filter":"datum.g=='P'"}],"mark":{"type":"point","filled":true,"size":2.5,"color":"#4d4d4d","opacity":1}},
   {"transform":[{"loess":"D","on":"F","bandwidth":0.6}],"mark":{"type":"line","color":"#8a8a8a","strokeWidth":1.4}},
   {"transform":[{"filter":"datum.g!='P'"}],"mark":{"type":"point","filled":true,"size":13,"opacity":1},"encoding":{"color":{"field":"g","type":"nominal","scale":{"domain":["P","T","S","H"],"range":["#4d4d4d","#009E73","#E69F00","#D55E00"]},"legend":null}}}]},
 {"width":48,"height":48,"view":{"stroke":null},"data":{"name":"geno"},
  "mark":{"type":"bar","fill":"#bfbfbf","stroke":"#595959","strokeWidth":0.5,"binSpacing":0},
  "encoding":{"x":{"field":"D","type":"quantitative","bin":{"step":2.5,"extent":[31.25,56.25],"nice":false},"scale":{"domain":[28.5,58],"nice":false,"zero":false},"axis":null},
  "y":{"aggregate":"count","type":"quantitative","scale":{"nice":false},"axis":null}}}
],"spacing":3,"bounds":"flush"},
{"hconcat":[
 {"width":48,"height":48,"data":{"name":"geno"},"title":"r = 0.25 (0.003)",
  "encoding":{"x":{"field":"Y","type":"quantitative","scale":{"domain":[5.3,8.65],"nice":false,"zero":false},"axis":null},
   "y":{"field":"R","type":"quantitative","scale":{"domain":[0.035,0.083],"nice":false,"zero":false},"axis":{"values":[0.04,0.05,0.06,0.07,0.08],"format":".2f","title":["Grain filling rate","(g DM per °Cd)"],"titleFontSize":3.3,"titleLineHeight":4.2}}},
  "layer":[
   {"transform":[{"filter":"datum.g=='P'"}],"mark":{"type":"point","filled":true,"size":2.5,"color":"#4d4d4d","opacity":1}},
   {"transform":[{"loess":"R","on":"Y","bandwidth":0.6}],"mark":{"type":"line","color":"#8a8a8a","strokeWidth":1.4}},
   {"transform":[{"filter":"datum.g!='P'"}],"mark":{"type":"point","filled":true,"size":13,"opacity":1},"encoding":{"color":{"field":"g","type":"nominal","scale":{"domain":["P","T","S","H"],"range":["#4d4d4d","#009E73","#E69F00","#D55E00"]},"legend":null}}}]},
 {"width":48,"height":48,"data":{"name":"geno"},"title":"r = 0.40 (<0.0001)",
  "encoding":{"x":{"field":"L","type":"quantitative","scale":{"domain":[1.48,2.72],"nice":false,"zero":false},"axis":null},
   "y":{"field":"R","type":"quantitative","scale":{"domain":[0.035,0.083],"nice":false,"zero":false},"axis":null}},
  "layer":[
   {"transform":[{"filter":"datum.g=='P'"}],"mark":{"type":"point","filled":true,"size":2.5,"color":"#4d4d4d","opacity":1}},
   {"transform":[{"loess":"R","on":"L","bandwidth":0.6}],"mark":{"type":"line","color":"#8a8a8a","strokeWidth":1.4}},
   {"transform":[{"filter":"datum.g!='P'"}],"mark":{"type":"point","filled":true,"size":13,"opacity":1},"encoding":{"color":{"field":"g","type":"nominal","scale":{"domain":["P","T","S","H"],"range":["#4d4d4d","#009E73","#E69F00","#D55E00"]},"legend":null}}}]},
 {"width":48,"height":48,"data":{"name":"geno"},"title":"r = 0.17 (0.0472)",
  "encoding":{"x":{"field":"K","type":"quantitative","scale":{"domain":[0.45,1.24],"nice":false,"zero":false},"axis":null},
   "y":{"field":"R","type":"quantitative","scale":{"domain":[0.035,0.083],"nice":false,"zero":false},"axis":null}},
  "layer":[
   {"transform":[{"filter":"datum.g=='P'"}],"mark":{"type":"point","filled":true,"size":2.5,"color":"#4d4d4d","opacity":1}},
   {"transform":[{"loess":"R","on":"K","bandwidth":0.6}],"mark":{"type":"line","color":"#8a8a8a","strokeWidth":1.4}},
   {"transform":[{"filter":"datum.g!='P'"}],"mark":{"type":"point","filled":true,"size":13,"opacity":1},"encoding":{"color":{"field":"g","type":"nominal","scale":{"domain":["P","T","S","H"],"range":["#4d4d4d","#009E73","#E69F00","#D55E00"]},"legend":null}}}]},
 {"width":48,"height":48,"data":{"name":"geno"},"title":"r = −0.49 (<0.0001)",
  "encoding":{"x":{"field":"F","type":"quantitative","scale":{"domain":[36,96],"nice":false,"zero":false},"axis":null},
   "y":{"field":"R","type":"quantitative","scale":{"domain":[0.035,0.083],"nice":false,"zero":false},"axis":null}},
  "layer":[
   {"transform":[{"filter":"datum.g=='P'"}],"mark":{"type":"point","filled":true,"size":2.5,"color":"#4d4d4d","opacity":1}},
   {"transform":[{"loess":"R","on":"F","bandwidth":0.6}],"mark":{"type":"line","color":"#8a8a8a","strokeWidth":1.4}},
   {"transform":[{"filter":"datum.g!='P'"}],"mark":{"type":"point","filled":true,"size":13,"opacity":1},"encoding":{"color":{"field":"g","type":"nominal","scale":{"domain":["P","T","S","H"],"range":["#4d4d4d","#009E73","#E69F00","#D55E00"]},"legend":null}}}]},
 {"width":48,"height":48,"data":{"name":"geno"},"title":"r = 0.90 (<0.0001)",
  "encoding":{"x":{"field":"D","type":"quantitative","scale":{"domain":[28.5,58],"nice":false,"zero":false},"axis":null},
   "y":{"field":"R","type":"quantitative","scale":{"domain":[0.035,0.083],"nice":false,"zero":false},"axis":null}},
  "layer":[
   {"transform":[{"filter":"datum.g=='P'"}],"mark":{"type":"point","filled":true,"size":2.5,"color":"#4d4d4d","opacity":1}},
   {"transform":[{"loess":"R","on":"D","bandwidth":0.6}],"mark":{"type":"line","color":"#8a8a8a","strokeWidth":1.4}},
   {"transform":[{"filter":"datum.g!='P'"}],"mark":{"type":"point","filled":true,"size":13,"opacity":1},"encoding":{"color":{"field":"g","type":"nominal","scale":{"domain":["P","T","S","H"],"range":["#4d4d4d","#009E73","#E69F00","#D55E00"]},"legend":null}}}]},
 {"width":48,"height":48,"view":{"stroke":null},"data":{"name":"geno"},
  "mark":{"type":"bar","fill":"#bfbfbf","stroke":"#595959","strokeWidth":0.5,"binSpacing":0},
  "encoding":{"x":{"field":"R","type":"quantitative","bin":{"step":0.004,"extent":[0.042,0.078],"nice":false},"scale":{"domain":[0.035,0.083],"nice":false,"zero":false},"axis":null},
  "y":{"aggregate":"count","type":"quantitative","scale":{"nice":false},"axis":null}}}
],"spacing":3,"bounds":"flush"},
{"hconcat":[
 {"width":48,"height":48,"data":{"name":"geno"},"title":"r = −0.04 (0.658)",
  "encoding":{"x":{"field":"Y","type":"quantitative","scale":{"domain":[5.3,8.65],"nice":false,"zero":false},"axis":{"values":[5.5,7,8.5],"format":".1f","title":["Grain yield","(t ha⁻¹)"]}},
   "y":{"field":"T","type":"quantitative","scale":{"domain":[625,945],"nice":false,"zero":false},"axis":{"values":[650,700,750,800,850,900],"title":["Grain filling","duration (°Cd)"],"titleFontSize":3.3,"titleLineHeight":4.2}}},
  "layer":[
   {"transform":[{"filter":"datum.g=='P'"}],"mark":{"type":"point","filled":true,"size":2.5,"color":"#4d4d4d","opacity":1}},
   {"transform":[{"loess":"T","on":"Y","bandwidth":0.6}],"mark":{"type":"line","color":"#8a8a8a","strokeWidth":1.4}},
   {"transform":[{"filter":"datum.g!='P'"}],"mark":{"type":"point","filled":true,"size":13,"opacity":1},"encoding":{"color":{"field":"g","type":"nominal","scale":{"domain":["P","T","S","H"],"range":["#4d4d4d","#009E73","#E69F00","#D55E00"]},"legend":null}}}]},
 {"width":48,"height":48,"data":{"name":"geno"},"title":"r = −0.16 (0.0292)",
  "encoding":{"x":{"field":"L","type":"quantitative","scale":{"domain":[1.48,2.72],"nice":false,"zero":false},"axis":{"values":[1.6,2.0,2.4],"format":".1f","title":["Light use","efficiency (g DM MJ⁻¹)"]}},
   "y":{"field":"T","type":"quantitative","scale":{"domain":[625,945],"nice":false,"zero":false},"axis":null}},
  "layer":[
   {"transform":[{"filter":"datum.g=='P'"}],"mark":{"type":"point","filled":true,"size":2.5,"color":"#4d4d4d","opacity":1}},
   {"transform":[{"loess":"T","on":"L","bandwidth":0.6}],"mark":{"type":"line","color":"#8a8a8a","strokeWidth":1.4}},
   {"transform":[{"filter":"datum.g!='P'"}],"mark":{"type":"point","filled":true,"size":13,"opacity":1},"encoding":{"color":{"field":"g","type":"nominal","scale":{"domain":["P","T","S","H"],"range":["#4d4d4d","#009E73","#E69F00","#D55E00"]},"legend":null}}}]},
 {"width":48,"height":48,"data":{"name":"geno"},"title":"r = −0.11 (0.0977)",
  "encoding":{"x":{"field":"K","type":"quantitative","scale":{"domain":[0.45,1.24],"nice":false,"zero":false},"axis":{"values":[0.5,0.8,1.1],"format":".1f","title":["Light extinction","coefficient (-)"]}},
   "y":{"field":"T","type":"quantitative","scale":{"domain":[625,945],"nice":false,"zero":false},"axis":null}},
  "layer":[
   {"transform":[{"filter":"datum.g=='P'"}],"mark":{"type":"point","filled":true,"size":2.5,"color":"#4d4d4d","opacity":1}},
   {"transform":[{"loess":"T","on":"K","bandwidth":0.6}],"mark":{"type":"line","color":"#8a8a8a","strokeWidth":1.4}},
   {"transform":[{"filter":"datum.g!='P'"}],"mark":{"type":"point","filled":true,"size":13,"opacity":1},"encoding":{"color":{"field":"g","type":"nominal","scale":{"domain":["P","T","S","H"],"range":["#4d4d4d","#009E73","#E69F00","#D55E00"]},"legend":null}}}]},
 {"width":48,"height":48,"data":{"name":"geno"},"title":"r = 0.2 (0.0546)",
  "encoding":{"x":{"field":"F","type":"quantitative","scale":{"domain":[36,96],"nice":false,"zero":false},"axis":{"values":[40,60,80],"title":["Fruiting efficiency","(grain per g DM)"]}},
   "y":{"field":"T","type":"quantitative","scale":{"domain":[625,945],"nice":false,"zero":false},"axis":null}},
  "layer":[
   {"transform":[{"filter":"datum.g=='P'"}],"mark":{"type":"point","filled":true,"size":2.5,"color":"#4d4d4d","opacity":1}},
   {"transform":[{"loess":"T","on":"F","bandwidth":0.6}],"mark":{"type":"line","color":"#8a8a8a","strokeWidth":1.4}},
   {"transform":[{"filter":"datum.g!='P'"}],"mark":{"type":"point","filled":true,"size":13,"opacity":1},"encoding":{"color":{"field":"g","type":"nominal","scale":{"domain":["P","T","S","H"],"range":["#4d4d4d","#009E73","#E69F00","#D55E00"]},"legend":null}}}]},
 {"width":48,"height":48,"data":{"name":"geno"},"title":"r = −0.23 (0.0127)",
  "encoding":{"x":{"field":"D","type":"quantitative","scale":{"domain":[28.5,58],"nice":false,"zero":false},"axis":{"values":[30,40,50],"title":["Grain dry mass","(g DM per grain)"]}},
   "y":{"field":"T","type":"quantitative","scale":{"domain":[625,945],"nice":false,"zero":false},"axis":null}},
  "layer":[
   {"transform":[{"filter":"datum.g=='P'"}],"mark":{"type":"point","filled":true,"size":2.5,"color":"#4d4d4d","opacity":1}},
   {"transform":[{"loess":"T","on":"D","bandwidth":0.6}],"mark":{"type":"line","color":"#8a8a8a","strokeWidth":1.4}},
   {"transform":[{"filter":"datum.g!='P'"}],"mark":{"type":"point","filled":true,"size":13,"opacity":1},"encoding":{"color":{"field":"g","type":"nominal","scale":{"domain":["P","T","S","H"],"range":["#4d4d4d","#009E73","#E69F00","#D55E00"]},"legend":null}}}]},
 {"width":48,"height":48,"data":{"name":"geno"},"title":"r = −0.56 (<0.0001)",
  "encoding":{"x":{"field":"R","type":"quantitative","scale":{"domain":[0.035,0.083],"nice":false,"zero":false},"axis":{"values":[0.04,0.06,0.08],"format":".2f","title":["Grain filling","rate (g DM per °Cd)"]}},
   "y":{"field":"T","type":"quantitative","scale":{"domain":[625,945],"nice":false,"zero":false},"axis":null}},
  "layer":[
   {"transform":[{"filter":"datum.g=='P'"}],"mark":{"type":"point","filled":true,"size":2.5,"color":"#4d4d4d","opacity":1}},
   {"transform":[{"loess":"T","on":"R","bandwidth":0.6}],"mark":{"type":"line","color":"#8a8a8a","strokeWidth":1.4}},
   {"transform":[{"filter":"datum.g!='P'"}],"mark":{"type":"point","filled":true,"size":13,"opacity":1},"encoding":{"color":{"field":"g","type":"nominal","scale":{"domain":["P","T","S","H"],"range":["#4d4d4d","#009E73","#E69F00","#D55E00"]},"legend":null}}}]},
 {"width":48,"height":48,"view":{"stroke":null},"data":{"name":"geno"},
  "mark":{"type":"bar","fill":"#bfbfbf","stroke":"#595959","strokeWidth":0.5,"binSpacing":0},
  "encoding":{"x":{"field":"T","type":"quantitative","bin":{"step":20,"extent":[650,890],"nice":false},"scale":{"domain":[625,945],"nice":false,"zero":false},"axis":null},
  "y":{"aggregate":"count","type":"quantitative","scale":{"nice":false},"axis":null}}}
],"spacing":3,"bounds":"flush"}
],"spacing":3}
]
}
